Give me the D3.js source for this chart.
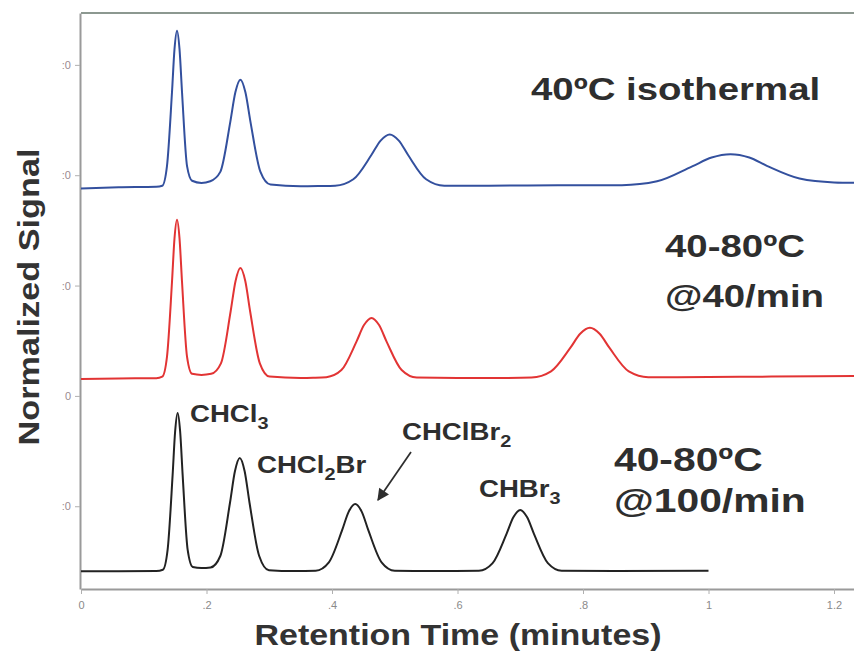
<!DOCTYPE html>
<html>
<head>
<meta charset="utf-8">
<script src="https://cdn.jsdelivr.net/npm/d3@7/dist/d3.min.js"></script>
<style>
  html, body { margin: 0; padding: 0; background: #fff; }
  svg { display: block; }
  text { font-family: "Liberation Sans", Arial, Helvetica, sans-serif; }
</style>
</head>
<body>
<svg id="chart" width="854" height="654"></svg>
<script>
// Chromatograms of four trihalomethanes under three oven programs.
// Each series: [retention time (min), normalized signal].

const isothermal40 = [
  [0.000, 18.80], [0.060, 18.90], [0.120, 18.95],
  [0.1295, 19.04], [0.137, 20.82], [0.145, 27.52], [0.149, 31.42], [0.153, 33.10],
  [0.157, 31.42], [0.161, 27.52], [0.169, 20.82], [0.177, 19.50],
  [0.192, 19.30],
  [0.206, 19.45], [0.222, 20.30], [0.238, 24.86], [0.246, 27.51], [0.254, 28.65],
  [0.262, 27.51], [0.270, 24.86], [0.286, 20.30], [0.302, 19.15],
  [0.350, 19.00], [0.380, 19.02],
  [0.405, 19.05], [0.434, 19.63], [0.463, 21.85], [0.4775, 23.14], [0.492, 23.70],
  [0.5065, 23.14], [0.521, 21.85], [0.550, 19.63], [0.579, 19.05],
  [0.650, 19.05], [0.760, 19.08], [0.862, 19.10],
  [0.918, 19.45], [0.974, 20.80], [1.005, 21.60], [1.035, 21.90], [1.065, 21.60],
  [1.093, 20.85], [1.145, 19.70], [1.200, 19.35], [1.250, 19.30]
];

const ramp40 = [
  [0.000, 1.54], [0.060, 1.58], [0.120, 1.60],
  [0.1295, 1.74], [0.137, 3.54], [0.145, 10.32], [0.149, 14.27], [0.153, 15.96],
  [0.157, 14.27], [0.161, 10.32], [0.169, 3.54], [0.177, 2.00],
  [0.192, 1.90],
  [0.2075, 2.00], [0.223, 2.95], [0.2385, 7.67], [0.2463, 10.42], [0.254, 11.60],
  [0.2618, 10.42], [0.2695, 7.67], [0.285, 2.95], [0.3005, 1.75],
  [0.350, 1.62], [0.370, 1.64],
  [0.391, 1.70], [0.415, 2.34], [0.439, 4.92], [0.451, 6.42], [0.463, 7.07],
  [0.475, 6.42], [0.487, 4.92], [0.511, 2.34], [0.535, 1.66],
  [0.600, 1.62], [0.680, 1.63], [0.718, 1.66],
  [0.749, 2.22], [0.780, 4.37], [0.7955, 5.63], [0.811, 6.17],
  [0.8265, 5.63], [0.842, 4.37], [0.873, 2.22], [0.904, 1.70],
  [0.950, 1.70], [1.100, 1.75], [1.250, 1.80]
];

const ramp100 = [
  [0.000, -15.90], [0.060, -15.90], [0.120, -15.88],
  [0.1305, -15.76], [0.138, -13.96], [0.146, -7.18], [0.150, -3.23], [0.154, -1.54],
  [0.158, -3.23], [0.162, -7.18], [0.170, -13.96], [0.178, -15.50],
  [0.192, -15.60],
  [0.2065, -15.55], [0.222, -14.51], [0.2375, -9.66], [0.2453, -6.83], [0.253, -5.62],
  [0.2608, -6.83], [0.2685, -9.66], [0.284, -14.51], [0.2995, -15.80],
  [0.340, -15.88], [0.374, -15.84],
  [0.395, -15.08], [0.416, -12.19], [0.4265, -10.51], [0.437, -9.79],
  [0.4475, -10.51], [0.458, -12.19], [0.479, -15.08], [0.500, -15.84],
  [0.560, -15.88], [0.634, -15.84],
  [0.656, -15.15], [0.678, -12.52], [0.689, -11.00], [0.700, -10.33],
  [0.711, -11.00], [0.722, -12.52], [0.744, -15.15], [0.766, -15.84],
  [0.850, -15.86], [1.000, -15.85]
];

const seriesNames  = ["40ºC isothermal", "40-80ºC @40/min", "40-80ºC @100/min"];
const seriesColors = ["#33509e", "#e23434", "#222222"];

const xTickValues = [0, 0.2, 0.4, 0.6, 0.8, 1.0, 1.2];
const xTickLabels = ["0", ".2", ".4", ".6", ".8", "1", "1.2"];
const yTickValues = [30, 20, 10, 0, -10];
const yTickLabels = [":0", ":0", ":0", "0", ":0"];

// Compound names for the four peaks of the fastest program
const compounds = [
  { base: "CHCl", sub: "3", after: "" },
  { base: "CHCl", sub: "2", after: "Br" },
  { base: "CHClBr", sub: "2", after: "" },
  { base: "CHBr", sub: "3", after: "" }
];

// ---------------------------------------------------------------
const svg = d3.select("#chart");
const W = 854, H = 654;
const plot = { left: 81, top: 13, bottom: 589 };

const x = d3.scaleLinear().domain([0, 1.25]).range([plot.left, plot.left + 1.25 * 627.5]);
const y = d3.scaleLinear().domain([-17.5, 34.7]).range([plot.bottom, plot.top]);

const defs = svg.append("defs");
defs.append("clipPath").attr("id", "plotClip")
  .append("rect")
  .attr("x", plot.left).attr("y", plot.top)
  .attr("width", W - plot.left).attr("height", plot.bottom - plot.top);

// frame: top border and axes
svg.append("line")
  .attr("x1", plot.left).attr("x2", W)
  .attr("y1", plot.top).attr("y2", plot.top)
  .attr("stroke", "#8c9890").attr("stroke-width", 2);

const xAxis = d3.axisBottom(x)
  .tickValues(xTickValues)
  .tickFormat((d, i) => xTickLabels[i])
  .tickSizeInner(5).tickSizeOuter(0);
const gx = svg.append("g")
  .attr("transform", `translate(0,${plot.bottom})`)
  .call(xAxis);
gx.select(".domain").attr("stroke", "#9a9a9a").attr("stroke-width", 2);
gx.selectAll(".tick line").attr("stroke", "#b0b0b0");
gx.selectAll(".tick text").attr("fill", "#8a8a8a").attr("font-size", 11).attr("dy", "1.1em");

const yAxis = d3.axisLeft(y)
  .tickValues(yTickValues)
  .tickFormat((d, i) => yTickLabels[i])
  .tickSizeInner(5).tickSizeOuter(0);
const gy = svg.append("g")
  .attr("transform", `translate(${plot.left - 1},0)`)
  .call(yAxis);
gy.select(".domain").attr("stroke", "#9a9a9a").attr("stroke-width", 2);
gy.selectAll(".tick line").attr("stroke", "#b0b0b0");
gy.selectAll(".tick text").attr("fill", "#9a8a90").attr("font-size", 11).attr("x", -9);

// traces
const line = d3.line()
  .x(d => x(d[0]))
  .y(d => y(d[1]))
  .curve(d3.curveMonotoneX);

const traces = svg.append("g").attr("clip-path", "url(#plotClip)");
[isothermal40, ramp40, ramp100].forEach((s, i) => {
  traces.append("path")
    .datum(s)
    .attr("d", line)
    .attr("fill", "none")
    .attr("stroke", seriesColors[i])
    .attr("stroke-width", 2)
    .attr("stroke-linejoin", "round");
});

// text helper: horizontally widened bold text with optional subscript
function label(xp, yp, size, sx, parts) {
  const g = svg.append("g").attr("transform", `translate(${xp},${yp}) scale(${sx},1)`);
  const t = g.append("text")
    .attr("font-size", size)
    .attr("font-weight", "bold")
    .attr("fill", "#2e2e2e");
  parts.forEach(p => {
    const ts = t.append("tspan").text(p.text);
    if (p.sub) ts.attr("font-size", size * 0.72).attr("dy", size * 0.28);
    if (p.up) ts.attr("dy", -size * 0.28);
  });
  return t;
}

// series captions
label(531, 100, 32, 1.2, [{ text: "40ºC isothermal" }]);
label(665, 257, 32, 1.2, [{ text: "40-80ºC" }]);
label(665, 307, 32, 1.2, [{ text: "@40/min" }]);
label(614, 471, 34, 1.2, [{ text: "40-80ºC" }]);
label(614, 512, 34, 1.2, [{ text: "@100/min" }]);

// compound labels
const compoundPos = [[190, 422], [257, 473], [402, 440], [479, 497]];
compounds.forEach((c, i) => {
  const parts = [{ text: c.base }, { text: c.sub, sub: true }];
  if (c.after) parts.push({ text: c.after, up: true });
  label(compoundPos[i][0], compoundPos[i][1], 24, 1.15, parts);
});

// arrow pointing at the CHClBr2 peak
defs.append("marker")
  .attr("id", "arrowHead")
  .attr("viewBox", "0 0 10 10")
  .attr("refX", 9).attr("refY", 5)
  .attr("markerWidth", 8).attr("markerHeight", 7)
  .attr("orient", "auto")
  .append("path").attr("d", "M0,0 L10,5 L0,10 z").attr("fill", "#2e2e2e");
svg.append("line")
  .attr("x1", 411).attr("y1", 452)
  .attr("x2", 378).attr("y2", 500)
  .attr("stroke", "#2e2e2e").attr("stroke-width", 1.7)
  .attr("marker-end", "url(#arrowHead)");

// axis titles
svg.append("text")
  .attr("x", 458).attr("y", 645)
  .attr("text-anchor", "middle")
  .attr("font-size", 29).attr("font-weight", "bold")
  .attr("fill", "#333")
  .attr("textLength", 407).attr("lengthAdjust", "spacingAndGlyphs")
  .text("Retention Time (minutes)");

svg.append("text")
  .attr("transform", "translate(39,297) rotate(-90)")
  .attr("text-anchor", "middle")
  .attr("font-size", 30).attr("font-weight", "bold")
  .attr("fill", "#333")
  .attr("textLength", 297).attr("lengthAdjust", "spacingAndGlyphs")
  .text("Normalized Signal");
</script>
</body>
</html>
